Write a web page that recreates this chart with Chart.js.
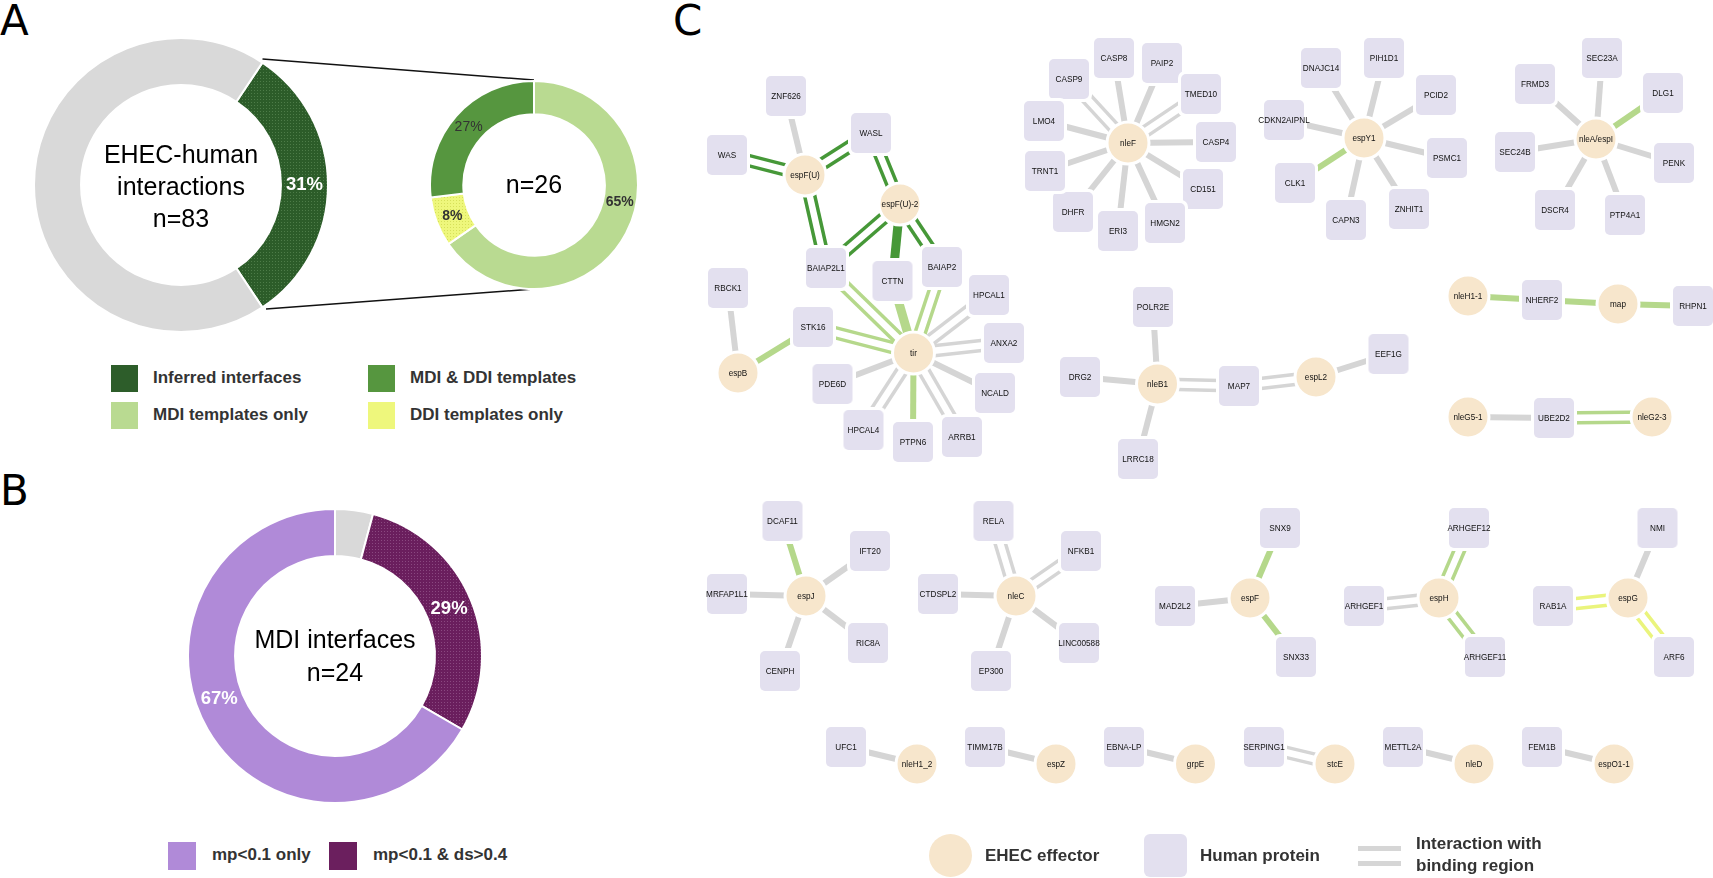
<!DOCTYPE html>
<html>
<head>
<meta charset="utf-8">
<script src="https://cdn.jsdelivr.net/npm/chart.js@4.4.0/dist/chart.umd.min.js"></script>
<style>
  html, body { margin: 0; padding: 0; background: #fff; }
  body { width: 1713px; height: 878px; position: relative; overflow: hidden; font-family: "Liberation Sans", Arial, sans-serif; }
  canvas, svg, .abs { position: absolute; }
  .letter { position: absolute; font-family: "DejaVu Sans", sans-serif; font-size: 42px; line-height: 42px; color: #000; }
  .lg { position: absolute; font-weight: bold; font-size: 17px; line-height: 20px; color: #333; white-space: nowrap; }
  .sw { position: absolute; width: 27px; height: 27px; }
</style>
</head>
<body>

<div class="letter" style="left:0; top:0">A</div>
<div class="letter" style="left:0; top:470px">B</div>
<div class="letter" style="left:673px; top:0">C</div>

<!-- zoom lines between the two rings of panel A -->
<svg style="left:0; top:0" width="620" height="420">
  <line x1="262.5" y1="59" x2="534" y2="80" stroke="#111" stroke-width="1.5"/>
  <line x1="266" y1="309" x2="534" y2="289" stroke="#111" stroke-width="1.5"/>
</svg>

<canvas id="ringAll" width="300" height="300" style="left:31px; top:35px"></canvas>
<canvas id="ringTpl" width="212" height="212" style="left:428px; top:79px"></canvas>
<canvas id="ringMdi" width="300" height="300" style="left:185px; top:506px"></canvas>
<canvas id="network" width="1093" height="878" style="left:620px; top:0"></canvas>

<!-- legend A -->
<div class="sw" style="left:111px; top:365px; background:#2d5d2a"></div>
<div class="lg" style="left:153px; top:368px">Inferred interfaces</div>
<div class="sw" style="left:368px; top:365px; background:#56963f"></div>
<div class="lg" style="left:410px; top:368px">MDI &amp; DDI templates</div>
<div class="sw" style="left:111px; top:402px; background:#b9da91"></div>
<div class="lg" style="left:153px; top:405px">MDI templates only</div>
<div class="sw" style="left:368px; top:402px; background:#eef77c"></div>
<div class="lg" style="left:410px; top:405px">DDI templates only</div>

<!-- legend B -->
<div class="sw" style="left:168px; top:842px; width:28px; height:28px; background:#b08ad8"></div>
<div class="lg" style="left:212px; top:845px">mp&lt;0.1 only</div>
<div class="sw" style="left:329px; top:842px; width:28px; height:28px; background:#6b1f5e"></div>
<div class="lg" style="left:373px; top:845px">mp&lt;0.1 &amp; ds&gt;0.4</div>

<!-- legend C -->
<div class="abs" style="left:929px; top:834px; width:43px; height:43px; border-radius:50%; background:#f7e6cc"></div>
<div class="lg" style="left:985px; top:846px">EHEC effector</div>
<div class="abs" style="left:1144px; top:834px; width:43px; height:43px; border-radius:6px; background:#e3e0ef"></div>
<div class="lg" style="left:1200px; top:846px">Human protein</div>
<div class="abs" style="left:1358px; top:846px; width:43px; height:5px; background:#d6d6d6"></div>
<div class="abs" style="left:1358px; top:861px; width:43px; height:5px; background:#d6d6d6"></div>
<div class="lg" style="left:1416px; top:834px">Interaction with</div>
<div class="lg" style="left:1416px; top:856px">binding region</div>

<script>
// ---- panel A: all interactions, and the ones with a template ----
const allLabels = ['Inferred interfaces', 'No interface'];
const allValues = [26, 57];
const tplLabels = ['MDI templates only', 'DDI templates only', 'MDI & DDI templates'];
const tplValues = [17, 2, 7];

// ---- panel B: MDI interfaces ----
const mdiLabels = ['other', 'mp<0.1 & ds>0.4', 'mp<0.1 only'];
const mdiValues = [1, 7, 16];

// ---- panel C: network ----
const effectorNames = ['espF(U)', 'espF(U)-2', 'tir', 'espB', 'nleF', 'espY1', 'nleA/espI', 'nleB1',
  'espL2', 'nleH1-1', 'map', 'nleG5-1', 'nleG2-3', 'espJ', 'nleC', 'espF', 'espH', 'espG',
  'nleH1_2', 'espZ', 'grpE', 'stcE', 'nleD', 'espO1-1'];
const effectorX = [805, 900, 913.5, 738, 1128, 1364, 1596, 1157.5,
  1316, 1468, 1618, 1468, 1652, 806, 1016, 1250, 1439, 1628,
  917, 1056, 1195.5, 1335, 1474, 1614];
const effectorY = [175, 204, 353, 373, 143, 138, 139, 384,
  377, 296, 304, 417, 417, 596, 596, 598, 598, 598,
  764, 764, 764, 764, 764, 764];

const proteinNames = ['ZNF626', 'WAS', 'WASL', 'BAIAP2L1', 'CTTN', 'BAIAP2', 'HPCAL1', 'RBCK1', 'STK16',
  'ANXA2', 'PDE6D', 'NCALD', 'HPCAL4', 'PTPN6', 'ARRB1',
  'CASP9', 'CASP8', 'PAIP2', 'TMED10', 'CASP4', 'CD151', 'HMGN2', 'ERI3', 'DHFR', 'TRNT1', 'LMO4',
  'DNAJC14', 'PIH1D1', 'PCID2', 'CDKN2AIPNL', 'PSMC1', 'CLK1', 'CAPN3', 'ZNHIT1',
  'FRMD3', 'SEC23A', 'DLG1', 'SEC24B', 'PENK', 'DSCR4', 'PTP4A1',
  'POLR2E', 'DRG2', 'LRRC18', 'MAP7', 'EEF1G', 'NHERF2', 'RHPN1', 'UBE2D2',
  'DCAF11', 'IFT20', 'MRFAP1L1', 'RIC8A', 'CENPH', 'RELA', 'NFKB1', 'CTDSPL2', 'LINC00588', 'EP300',
  'SNX9', 'MAD2L2', 'SNX33', 'ARHGEF12', 'ARHGEF1', 'ARHGEF11', 'NMI', 'RAB1A', 'ARF6',
  'UFC1', 'TIMM17B', 'EBNA-LP', 'SERPING1', 'METTL2A', 'FEM1B'];
const proteinX = [786, 727, 871, 826, 892.5, 942, 989, 728, 813,
  1004, 832.5, 995, 863.5, 913, 962,
  1069, 1114, 1162, 1201, 1216, 1203, 1165, 1118, 1073, 1045, 1044,
  1321, 1384, 1436, 1284, 1447, 1295, 1346, 1409,
  1535, 1602, 1663, 1515, 1674, 1555, 1625,
  1153, 1080, 1138, 1239, 1388.5, 1542, 1693, 1554,
  782.5, 870, 727, 868, 780, 993.5, 1081, 938, 1079, 991,
  1280, 1175, 1296, 1469, 1364, 1485, 1657.5, 1553, 1674,
  846, 985, 1124, 1264, 1403, 1542];
const proteinY = [96, 155, 133, 268, 281, 267, 295, 288, 327,
  343, 384, 393, 430, 442, 437,
  79, 58, 63, 94, 142, 189, 223, 231, 212, 171, 121,
  68, 58, 95, 120, 158, 183, 220, 209,
  84, 58, 93, 152, 163, 210, 215,
  307, 377, 459, 386, 354, 300, 306, 418,
  521, 551, 594, 643, 671, 521, 551, 594, 643, 671,
  528, 606, 657, 528, 606, 657, 528, 606, 657,
  747, 747, 747, 747, 747, 747];

// effector, human protein, template (none / mdi / both / ddi), line: 1 plain, 2 binding region, 3 wide
const edges = [
  ['espF(U)', 'WAS', 'both', 2], ['espF(U)', 'ZNF626', 'none', 1], ['espF(U)', 'WASL', 'both', 2],
  ['espF(U)', 'BAIAP2L1', 'both', 2],
  ['espF(U)-2', 'WASL', 'both', 2], ['espF(U)-2', 'BAIAP2L1', 'both', 2], ['espF(U)-2', 'CTTN', 'both', 3],
  ['espF(U)-2', 'BAIAP2', 'both', 2],
  ['tir', 'BAIAP2L1', 'mdi', 2], ['tir', 'CTTN', 'mdi', 3], ['tir', 'BAIAP2', 'mdi', 2],
  ['tir', 'HPCAL1', 'none', 2], ['tir', 'ANXA2', 'none', 2], ['tir', 'NCALD', 'none', 1],
  ['tir', 'ARRB1', 'none', 2], ['tir', 'PTPN6', 'mdi', 1], ['tir', 'HPCAL4', 'none', 2],
  ['tir', 'PDE6D', 'none', 1], ['tir', 'STK16', 'mdi', 2],
  ['espB', 'STK16', 'mdi', 1], ['espB', 'RBCK1', 'none', 1],
  ['nleF', 'CASP9', 'none', 2], ['nleF', 'CASP8', 'none', 1], ['nleF', 'PAIP2', 'none', 1],
  ['nleF', 'TMED10', 'none', 2], ['nleF', 'CASP4', 'none', 1], ['nleF', 'CD151', 'none', 1],
  ['nleF', 'HMGN2', 'none', 1], ['nleF', 'ERI3', 'none', 1], ['nleF', 'DHFR', 'none', 1],
  ['nleF', 'TRNT1', 'none', 1], ['nleF', 'LMO4', 'none', 1],
  ['espY1', 'DNAJC14', 'none', 1], ['espY1', 'PIH1D1', 'none', 1], ['espY1', 'PCID2', 'none', 1],
  ['espY1', 'CDKN2AIPNL', 'none', 1], ['espY1', 'PSMC1', 'none', 1], ['espY1', 'CLK1', 'mdi', 1],
  ['espY1', 'CAPN3', 'none', 1], ['espY1', 'ZNHIT1', 'none', 1],
  ['nleA/espI', 'FRMD3', 'none', 1], ['nleA/espI', 'SEC23A', 'none', 1], ['nleA/espI', 'DLG1', 'mdi', 1],
  ['nleA/espI', 'SEC24B', 'none', 1], ['nleA/espI', 'PENK', 'none', 1], ['nleA/espI', 'DSCR4', 'none', 1],
  ['nleA/espI', 'PTP4A1', 'none', 1],
  ['nleB1', 'POLR2E', 'none', 1], ['nleB1', 'DRG2', 'none', 1], ['nleB1', 'LRRC18', 'none', 1],
  ['nleB1', 'MAP7', 'none', 2], ['espL2', 'MAP7', 'none', 2], ['espL2', 'EEF1G', 'none', 1],
  ['nleH1-1', 'NHERF2', 'mdi', 1], ['map', 'NHERF2', 'mdi', 1], ['map', 'RHPN1', 'mdi', 1],
  ['nleG5-1', 'UBE2D2', 'none', 1], ['nleG2-3', 'UBE2D2', 'mdi', 2],
  ['espJ', 'DCAF11', 'mdi', 1], ['espJ', 'IFT20', 'none', 1], ['espJ', 'MRFAP1L1', 'none', 1],
  ['espJ', 'RIC8A', 'none', 1], ['espJ', 'CENPH', 'none', 1],
  ['nleC', 'RELA', 'none', 2], ['nleC', 'NFKB1', 'none', 2], ['nleC', 'CTDSPL2', 'none', 1],
  ['nleC', 'LINC00588', 'none', 1], ['nleC', 'EP300', 'none', 1],
  ['espF', 'SNX9', 'mdi', 1], ['espF', 'MAD2L2', 'none', 1], ['espF', 'SNX33', 'mdi', 1],
  ['espH', 'ARHGEF12', 'mdi', 2], ['espH', 'ARHGEF1', 'none', 2], ['espH', 'ARHGEF11', 'mdi', 2],
  ['espG', 'NMI', 'none', 1], ['espG', 'RAB1A', 'ddi', 2], ['espG', 'ARF6', 'ddi', 2],
  ['nleH1_2', 'UFC1', 'none', 1], ['espZ', 'TIMM17B', 'none', 1], ['grpE', 'EBNA-LP', 'none', 1],
  ['stcE', 'SERPING1', 'none', 2], ['nleD', 'METTL2A', 'none', 1], ['espO1-1', 'FEM1B', 'none', 1]
];

const edgeColors = { none: '#d5d5d5', mdi: '#b5d88b', both: '#469838', ddi: '#eaf47c' };

// stippled fill like the original
function dots(base, dot) {
  const c = document.createElement('canvas');
  c.width = 3; c.height = 3;
  const g = c.getContext('2d');
  g.fillStyle = base; g.fillRect(0, 0, 3, 3);
  g.fillStyle = dot; g.fillRect(1, 1, 1, 1);
  return g.createPattern(c, 'repeat');
}

// text in the hole of a ring
const centerText = {
  id: 'centerText',
  afterDatasetsDraw(chart, args, opts) {
    const arc = chart.getDatasetMeta(0).data[0];
    const ctx = chart.ctx;
    ctx.save();
    ctx.font = opts.font;
    ctx.fillStyle = '#000';
    ctx.textAlign = 'center';
    ctx.textBaseline = 'alphabetic';
    opts.lines.forEach((t, i) => ctx.fillText(t, arc.x, arc.y + opts.baselines[i]));
    ctx.restore();
  }
};

// percentage on the slices
const sliceLabels = {
  id: 'sliceLabels',
  afterDatasetsDraw(chart, args, opts) {
    const ctx = chart.ctx;
    const vals = chart.data.datasets[0].data;
    const total = vals.reduce((a, b) => a + b, 0);
    ctx.save();
    ctx.textAlign = 'center';
    ctx.textBaseline = 'middle';
    chart.getDatasetMeta(0).data.forEach((arc, i) => {
      if (!opts.show[i]) return;
      const p = arc.getProps(['x', 'y', 'startAngle', 'endAngle', 'innerRadius', 'outerRadius'], true);
      const a = p.startAngle + (opts.at[i] || 0.5) * (p.endAngle - p.startAngle);
      const r = (p.innerRadius + p.outerRadius) / 2;
      ctx.font = opts.fonts[i];
      ctx.fillStyle = opts.colors[i];
      ctx.fillText(Math.round(vals[i] / total * 100) + '%', p.x + r * Math.cos(a), p.y + r * Math.sin(a));
    });
    ctx.restore();
  }
};

function ring(id, labels, values, colors, radius, rotation, centerOpts, sliceOpts) {
  return new Chart(document.getElementById(id), {
    type: 'doughnut',
    data: {
      labels: labels,
      datasets: [{
        data: values,
        backgroundColor: colors,
        borderColor: '#fff',
        borderWidth: 2,
        radius: radius,
        cutout: '68%',
        rotation: rotation
      }]
    },
    options: {
      responsive: false,
      animation: false,
      events: [],
      layout: { padding: 0 },
      radius: radius,
      cutout: '68%',
      rotation: rotation,
      plugins: {
        legend: { display: false },
        tooltip: { enabled: false },
        centerText: centerOpts,
        sliceLabels: sliceOpts
      }
    },
    plugins: [centerText, sliceLabels]
  });
}

const allShare = allValues[0] / (allValues[0] + allValues[1]);
ring('ringAll', allLabels, allValues, [dots('#2c5c29', '#4d7c48'), '#d9d9d9'], 147, 90 - allShare * 180,
  { font: '25px "Liberation Sans"', lines: ['EHEC-human', 'interactions', 'n=83'], baselines: [-22, 10, 42] },
  { show: [true, false], at: [0.5], fonts: ['bold 18.5px "Liberation Sans"'], colors: ['#fff'] });

ring('ringTpl', tplLabels, tplValues, ['#b9da91', dots('#eef77c', '#d6e05a'), '#56963f'], 104, 0,
  { font: '25px "Liberation Sans"', lines: ['n=26'], baselines: [8] },
  { show: [true, true, true], at: [0.43, 0.5, 0.5],
    fonts: ['bold 14px "Liberation Sans"', 'bold 14px "Liberation Sans"', '14px "Liberation Sans"'],
    colors: ['#333', '#333', '#333'] });

ring('ringMdi', mdiLabels, mdiValues, ['#d9d9d9', dots('#6a1e5d', '#8a4880'), '#b08ad8'], 147, 0,
  { font: '25px "Liberation Sans"', lines: ['MDI interfaces', 'n=24'], baselines: [-8, 25] },
  { show: [false, true, true], at: [0.5, 0.5, 0.54],
    fonts: ['', 'bold 18.5px "Liberation Sans"', 'bold 18.5px "Liberation Sans"'], colors: ['', '#fff', '#fff'] });

// ---- network ----
// rounded lavender box with a white rim, used as point style
const box = document.createElement('canvas');
box.width = 46; box.height = 46;
(function () {
  const g = box.getContext('2d');
  g.fillStyle = '#fff';
  g.beginPath(); g.roundRect(0, 0, 46, 46, 7); g.fill();
  g.fillStyle = '#e3e0ef';
  g.beginPath(); g.roundRect(3, 3, 40, 40, 5); g.fill();
})();

const edgeLines = {
  id: 'edgeLines',
  beforeDatasetsDraw(chart) {
    const { ctx, scales: { x, y } } = chart;
    ctx.save();
    ctx.lineCap = 'butt';
    edges.forEach(([eff, prot, tpl, kind]) => {
      const i = effectorNames.indexOf(eff);
      const j = proteinNames.indexOf(prot);
      const x1 = x.getPixelForValue(effectorX[i]), y1 = y.getPixelForValue(effectorY[i]);
      const x2 = x.getPixelForValue(proteinX[j]), y2 = y.getPixelForValue(proteinY[j]);
      ctx.strokeStyle = edgeColors[tpl];
      if (kind === 2) {
        const len = Math.hypot(x2 - x1, y2 - y1);
        const nx = -(y2 - y1) / len * 5, ny = (x2 - x1) / len * 5;
        ctx.lineWidth = 3.5;
        [1, -1].forEach(s => {
          ctx.beginPath();
          ctx.moveTo(x1 + s * nx, y1 + s * ny);
          ctx.lineTo(x2 + s * nx, y2 + s * ny);
          ctx.stroke();
        });
      } else {
        ctx.lineWidth = kind === 3 ? 9 : 6;
        ctx.beginPath();
        ctx.moveTo(x1, y1);
        ctx.lineTo(x2, y2);
        ctx.stroke();
      }
    });
    ctx.restore();
  }
};

const nodeLabels = {
  id: 'nodeLabels',
  afterDatasetsDraw(chart) {
    const ctx = chart.ctx;
    ctx.save();
    ctx.font = '9.3px "Liberation Sans"';
    ctx.fillStyle = '#111';
    ctx.textAlign = 'center';
    ctx.textBaseline = 'middle';
    chart.data.datasets.forEach((ds, d) => {
      chart.getDatasetMeta(d).data.forEach((pt, k) => {
        ctx.save();
        ctx.translate(pt.x, pt.y + 0.5);
        ctx.scale(0.88, 1);
        ctx.fillText(ds.names[k], 0, 0);
        ctx.restore();
      });
    });
    ctx.restore();
  }
};

new Chart(document.getElementById('network'), {
  type: 'scatter',
  data: {
    datasets: [
      {
        label: 'EHEC effector',
        names: effectorNames,
        data: effectorNames.map((n, i) => ({ x: effectorX[i], y: effectorY[i] })),
        pointStyle: 'circle',
        pointRadius: 21,
        pointBorderWidth: 3,
        pointBackgroundColor: '#f7e6cc',
        pointBorderColor: '#fff'
      },
      {
        label: 'Human protein',
        names: proteinNames,
        data: proteinNames.map((n, i) => ({ x: proteinX[i], y: proteinY[i] })),
        pointStyle: box,
        pointRadius: 23
      }
    ]
  },
  options: {
    responsive: false,
    animation: false,
    events: [],
    layout: { autoPadding: false, padding: 0 },
    scales: {
      x: { type: 'linear', min: 620, max: 1713, display: false },
      y: { type: 'linear', min: 0, max: 878, reverse: true, display: false }
    },
    plugins: { legend: { display: false }, tooltip: { enabled: false } }
  },
  plugins: [edgeLines, nodeLabels]
});
</script>
</body>
</html>
